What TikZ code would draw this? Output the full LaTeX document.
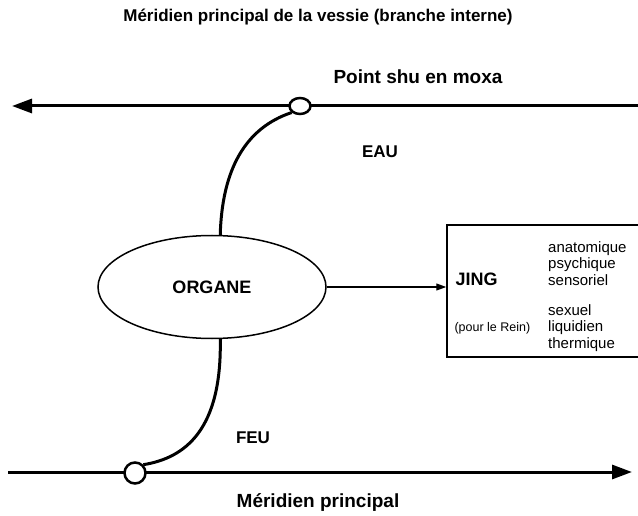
\documentclass[tikz,border=0pt]{standalone}
\usepackage{fontspec}
\setmainfont{Liberation Sans}
\usetikzlibrary{arrows.meta, shapes, positioning}

\begin{document}
\begin{tikzpicture}[x=1pt, y=-1pt,
  titre/.style={font=\fontsize{17}{20}\selectfont\bfseries},
  grand/.style={font=\fontsize{19}{22}\selectfont\bfseries},
  axe/.style={line width=3pt, -{Triangle[length=20pt,width=14pt]}},
  lien/.style={line width=3pt},
  pt/.style={ellipse, draw, fill=white, line width=2.5pt, inner sep=0pt},
  org/.style={ellipse, draw, line width=1.5pt, minimum width=228pt, minimum height=103pt},
  liste/.style={align=left, font=\fontsize{15}{16.5}\selectfont, inner sep=0pt}]
  \useasboundingbox (0,0) rectangle (638,516);

  \node[titre] (titreh) at (318,17) {Méridien principal de la vessie (branche interne)};
  \node[grand, anchor=west] (shutxt) at (330,77) {Point shu en moxa};
  \node[titre] (eau) at (380,152) {EAU};
  \node[titre] (feutxt) at (253,438) {FEU};
  \node[grand] (titreb) at (318,503) {Méridien principal};

  \coordinate (hautD) at (638,106);
  \coordinate (hautG) at (12,106);
  \coordinate (basG) at (8,472);
  \coordinate (basD) at (632,472);
  \draw[axe] (hautD) -- (hautG);
  \draw[axe] (basG) -- (basD);

  \node[org, font=\fontsize{18}{20}\selectfont\bfseries] (organe) at (212,287) {ORGANE};
  \node[draw, line width=1.5pt, minimum width=203pt, minimum height=132pt] (jing) at (548.5,291) {};

  \node[pt, minimum width=21pt, minimum height=16pt] (shu) at (300,106) {};
  \node[pt, minimum width=21pt, minimum height=21pt] (feu) at (135,473) {};

  \draw[lien] (shu.south west) .. controls (245,128) and (222,170) .. (organe.81);
  \draw[lien] (organe.-81) .. controls (222,430) and (185,458) .. (feu.north east);
  \draw[-{Triangle[length=10pt,width=7pt]}, line width=1.2pt] (organe.east) -- (organe.east -| jing.west);

  \node[titre, anchor=west, font=\fontsize{18}{20}\selectfont\bfseries] (jingtxt) at (452,279) {JING};
  \node[anchor=west, font=\fontsize{12.5}{14}\selectfont] (rein) at (451,328) {(pour le Rein)};
  \node[liste, anchor=north west] (liste1) at (548,241) {anatomique\\psychique\\sensoriel};
  \node[liste, anchor=north west] (liste2) at (548,304) {sexuel\\liquidien\\thermique};
\end{tikzpicture}
\end{document}
